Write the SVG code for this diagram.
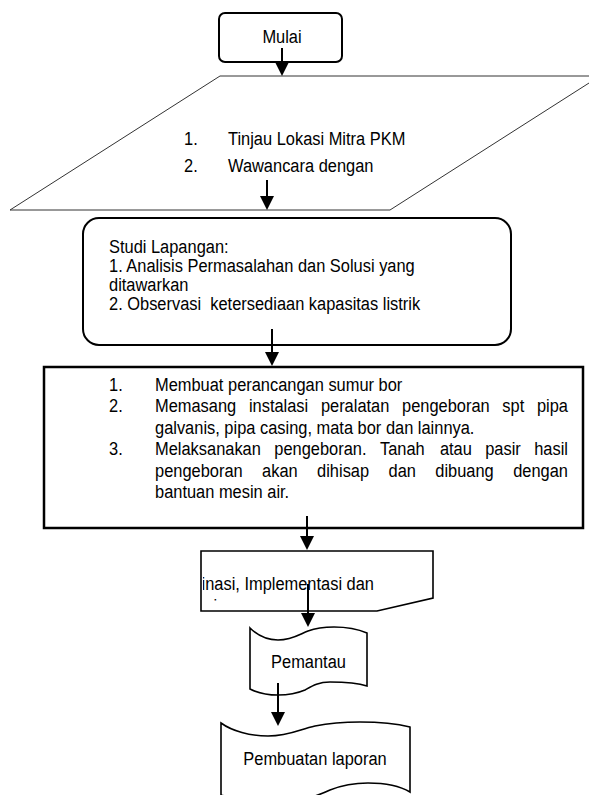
<svg xmlns="http://www.w3.org/2000/svg" width="589" height="795" viewBox="0 0 589 795">
<style>
.t{font-family:'Liberation Sans',Arial,sans-serif;font-size:18.8px;fill:#000}
.box{fill:#fff;stroke:#000;stroke-width:2}
.thin{fill:#fff;stroke:#333;stroke-width:1}
.conn{stroke:#000;stroke-width:2;fill:none}
</style>
<defs>
<marker id="ah" viewBox="0 0 14 14" refX="6" refY="7" markerWidth="14" markerHeight="14" markerUnits="userSpaceOnUse" orient="auto">
<path d="M0,0 L14,7 L0,14 z" fill="#000"/>
</marker>
<clipPath id="cpD"><rect x="203" y="552" width="229" height="50"/></clipPath>
</defs>
<rect width="589" height="795" fill="#fff"/>

<g id="mulai">
<rect class="box" x="219" y="13" width="123" height="49" rx="6"/>
<text class="t" text-anchor="middle" transform="matrix(0.874 0 0 1 282 42.5)">Mulai</text>
</g>

<g id="tinjau">
<polygon class="thin" points="220,76 600,76 390,210 10,210"/>
<g transform="translate(228 0) scale(0.874 1)">
<text class="t" x="-50.34" y="145">1.</text>
<text class="t" x="0" y="145">Tinjau Lokasi Mitra PKM</text>
<text class="t" x="-50.34" y="172">2.</text>
<text class="t" x="0" y="172">Wawancara dengan</text>
</g>
</g>

<g id="studi">
<rect class="box" x="83" y="218" width="428" height="127" rx="16"/>
<g transform="translate(109 0) scale(0.874 1)">
<text class="t" x="0" y="253">Studi Lapangan:</text>
<text class="t" x="0" y="272">1. Analisis Permasalahan dan Solusi yang</text>
<text class="t" x="0" y="291">ditawarkan</text>
<text class="t" x="0" y="310" xml:space="preserve">2. Observasi  ketersediaan kapasitas listrik</text>
</g>
</g>

<g id="pengeboran">
<rect class="box" x="44" y="367" width="539" height="161" style="stroke-width:2.5"/>
<g transform="translate(155 0) scale(0.874 1)">
<text class="t" x="-52.63" y="391">1.</text>
<text class="t" x="0" y="391">Membuat perancangan sumur bor</text>
<text class="t" x="-52.63" y="412.5">2.</text>
<text class="t" y="412.5"><tspan x="0">Memasang</tspan><tspan x="107.44">instalasi</tspan><tspan x="189.81">peralatan</tspan><tspan x="282.64">pengeboran</tspan><tspan x="397.44">spt</tspan><tspan x="436.98">pipa</tspan></text>
<text class="t" x="0" y="434">galvanis, pipa casing, mata bor dan lainnya.</text>
<text class="t" x="-52.63" y="455.5">3.</text>
<text class="t" y="455.5"><tspan x="0">Melaksanakan</tspan><tspan x="136.50">pengeboran.</tspan><tspan x="257.36">Tanah</tspan><tspan x="325.96">atau</tspan><tspan x="377.85">pasir</tspan><tspan x="433.89">hasil</tspan></text>
<text class="t" y="477"><tspan x="0">pengeboran</tspan><tspan x="122.52">akan</tspan><tspan x="185.46">dihisap</tspan><tspan x="267.20">dan</tspan><tspan x="320.74">dibuang</tspan><tspan x="409.82">dengan</tspan></text>
<text class="t" x="0" y="498.5">bantuan mesin air.</text>
</g>
</g>

<g id="diseminasi">
<polygon class="box" points="201,551 433,551 433,598 377,611 201,611" style="stroke-width:1.6"/>
<g clip-path="url(#cpD)">
<g transform="translate(155 0) scale(0.874 1)">
<text class="t" x="0" y="590">Diseminasi, Implementasi dan</text>
<text class="t" x="0" y="612">Evaluasi</text>
</g>
</g>
</g>

<g id="pemantau">
<path class="box" style="stroke-width:1.6" d="M250,628 C258,636 268,640 278,640 C292,640 300,634 308,631 C316,628 325,627 334,627 C348,627 360,630 367,633 L367,686 C358,683 345,682 330,682 C318,682 312,686 305,690 C298,693 290,695 278,695 C265,695 256,692 250,689 Z"/>
<text class="t" text-anchor="middle" transform="matrix(0.874 0 0 1 308.5 668)">Pemantau</text>
</g>

<g id="laporan">
<path class="box" style="stroke-width:1.6" d="M221,723 C232,731 250,736 268,736 C290,736 300,729 315,726 C330,723 345,722 360,722 C380,722 398,724 410,727 L410,792 C400,786 385,783 368,783 C350,783 340,786 330,790 C315,797 300,802 280,802 C255,802 235,799 221,795 Z"/>
<text class="t" text-anchor="middle" transform="matrix(0.874 0 0 1 315 765)">Pembuatan laporan</text>
</g>

<g id="connectors">
<line class="conn" x1="282" y1="48" x2="282" y2="68" marker-end="url(#ah)"/>
<line class="conn" x1="267" y1="180" x2="267" y2="202" marker-end="url(#ah)"/>
<line class="conn" x1="272" y1="329" x2="272" y2="358" marker-end="url(#ah)"/>
<line class="conn" x1="307" y1="516" x2="307" y2="542" marker-end="url(#ah)"/>
<line class="conn" x1="308" y1="584" x2="308" y2="619" marker-end="url(#ah)"/>
<line class="conn" x1="278" y1="683" x2="278" y2="718" marker-end="url(#ah)"/>
</g>
</svg>
